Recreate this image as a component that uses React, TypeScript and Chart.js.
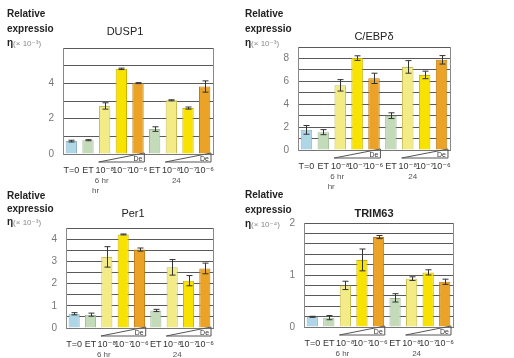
import React, { useEffect, useRef } from 'react';
import { Chart, registerables } from 'chart.js';

Chart.register(...registerables);

// ---------- data ----------
const categories = ['T=0', 'ET', '10⁻⁸', '10⁻⁷', '10⁻⁶', 'ET', '10⁻⁸', '10⁻⁷', '10⁻⁶'];

const dusp1Values = [0.73, 0.78, 2.72, 4.82, 4.01, 1.41, 3.04, 2.6, 3.82];
const dusp1Errors = [0.05, 0.03, 0.18, 0.04, 0.03, 0.13, 0.03, 0.06, 0.32];

const cebpdValues = [1.76, 1.56, 5.65, 8.03, 6.26, 3.0, 7.26, 6.56, 7.88];
const cebpdErrors = [0.38, 0.22, 0.5, 0.2, 0.45, 0.25, 0.55, 0.33, 0.37];

const per1Values = [0.64, 0.6, 3.2, 4.21, 3.53, 0.79, 2.73, 2.13, 2.68];
const per1Errors = [0.05, 0.07, 0.46, 0.02, 0.07, 0.05, 0.35, 0.23, 0.24];

const trim63Values = [0.196, 0.18, 0.8, 1.29, 1.73, 0.56, 0.93, 1.05, 0.87];
const trim63Errors = [0.01, 0.04, 0.08, 0.21, 0.03, 0.08, 0.035, 0.05, 0.05];

const barColors = ['#afd6e6', '#c3dbb9', '#f3ec86', '#f8e200', '#eaa326', '#c3dbb9', '#f3ec86', '#f8e200', '#eaa326'];
const barBorders = ['#8fb4c4', '#9fba98', '#c9bf55', '#c9b400', '#c07a10', '#9fba98', '#c9bf55', '#c9b400', '#c07a10'];

const groupStarts = [2, 6];
const groupEnds = [4, 8];

// ---------- layout ----------
type PanelCfg = {
  title: string;
  titleBold: boolean;
  values: number[];
  errors: number[];
  max: number;
  step: number;
  labelEvery: number;
  labelTop: boolean;
  exp: string;
  ox: number;
  oy: number;
  w: number;
  h: number;
  plot: [number, number, number, number];
  titlePos: [number, number];
  ylab: [number, number, number];
  extraHr: boolean;
};

const FONT = '"Liberation Sans", Arial, "DejaVu Sans", sans-serif';
const Y_W = 30;
const X_H = 30;

const panels: PanelCfg[] = [
  {
    title: 'DUSP1', titleBold: false, values: dusp1Values, errors: dusp1Errors,
    max: 6, step: 1, labelEvery: 2, labelTop: false, exp: '⁻³',
    ox: 0, oy: 0, w: 257, h: 200, plot: [63, 48, 213, 154],
    titlePos: [125, 31], ylab: [7, 7, 14.5], extraHr: true,
  },
  {
    title: 'C/EBPδ', titleBold: false, values: cebpdValues, errors: cebpdErrors,
    max: 9, step: 1, labelEvery: 2, labelTop: false, exp: '⁻³',
    ox: 257, oy: 0, w: 257, h: 200, plot: [298, 47, 450, 150],
    titlePos: [374, 36], ylab: [245, 7, 14.5], extraHr: true,
  },
  {
    title: 'Per1', titleBold: false, values: per1Values, errors: per1Errors,
    max: 4.5, step: 0.5, labelEvery: 1, labelTop: false, exp: '⁻³',
    ox: 0, oy: 180, w: 257, h: 178, plot: [66, 228, 213, 328],
    titlePos: [133, 213], ylab: [7, 190, 12.8], extraHr: false,
  },
  {
    title: 'TRIM63', titleBold: true, values: trim63Values, errors: trim63Errors,
    max: 2, step: 0.2, labelEvery: 1, labelTop: true, exp: '⁻⁴',
    ox: 257, oy: 180, w: 257, h: 178, plot: [304, 223, 453, 327],
    titlePos: [374, 213], ylab: [245, 188, 14.5], extraHr: false,
  },
];

function makeDecor(cfg: PanelCfg) {
  return {
    id: 'decor',
    afterDatasetsDraw(chart: any) {
      const { ctx, chartArea, scales } = chart;
      const x = scales.x;
      const y = scales.y;
      const meta = chart.getDatasetMeta(0);
      ctx.save();
      // error bars
      ctx.strokeStyle = '#333';
      ctx.lineWidth = 1;
      meta.data.forEach((bar: any, i: number) => {
        const v = cfg.values[i];
        const e = cfg.errors[i];
        const px = Math.round(bar.x) + 0.5;
        const yHi = y.getPixelForValue(v + e);
        const yLo = y.getPixelForValue(v - e);
        ctx.beginPath();
        ctx.moveTo(px, yHi);
        ctx.lineTo(px, yLo);
        ctx.moveTo(px - 3, yHi);
        ctx.lineTo(px + 3, yHi);
        ctx.moveTo(px - 3, yLo);
        ctx.lineTo(px + 3, yLo);
        ctx.stroke();
      });
      // right border of the plot
      ctx.strokeStyle = '#888';
      ctx.beginPath();
      ctx.moveTo(chartArea.right + 0.5, chartArea.top);
      ctx.lineTo(chartArea.right + 0.5, chartArea.bottom);
      ctx.stroke();
      // dose wedges
      const slot = x.getPixelForValue(1) - x.getPixelForValue(0);
      ctx.strokeStyle = '#555';
      ctx.fillStyle = '#333';
      groupStarts.forEach((g0, gi) => {
        const g1 = groupEnds[gi];
        const xl = x.getPixelForValue(g0) - slot * 0.36;
        const xr = x.getPixelForValue(g1) + slot * 0.38;
        const yt = chartArea.bottom - 1;
        const yb = chartArea.bottom + 8;
        ctx.beginPath();
        ctx.moveTo(xl, yb);
        ctx.lineTo(xr, yt);
        ctx.lineTo(xr, yb);
        ctx.lineTo(xl, yb);
        ctx.stroke();
        ctx.font = `7px ${FONT}`;
        ctx.textAlign = 'right';
        ctx.textBaseline = 'alphabetic';
        ctx.fillText('De', xr - 2, yb - 1);
      });
      // time labels
      ctx.font = `8px ${FONT}`;
      ctx.fillStyle = '#555';
      ctx.textAlign = 'center';
      ctx.textBaseline = 'middle';
      ctx.fillText('6 hr', x.getPixelForValue(groupStarts[0]) - 3, chartArea.bottom + 27);
      ctx.fillText('24', x.getPixelForValue(groupStarts[1]) + 5, chartArea.bottom + 27);
      if (cfg.extraHr) {
        ctx.fillText('hr', x.getPixelForValue(groupStarts[0]) - 9, chartArea.bottom + 37);
      }
      ctx.restore();
    },
  };
}

function Panel({ cfg }: { cfg: PanelCfg }) {
  const ref = useRef<HTMLCanvasElement>(null);
  useEffect(() => {
    if (!ref.current) return;
    const [pl, pt, pr, pb] = cfg.plot;
    const chart = new Chart(ref.current, {
      type: 'bar',
      data: {
        labels: categories,
        datasets: [
          {
            data: cfg.values,
            backgroundColor: barColors,
            borderColor: barBorders,
            borderWidth: 1,
            barPercentage: 0.68,
            categoryPercentage: 1,
          },
        ],
      },
      options: {
        responsive: false,
        animation: false,
        devicePixelRatio: 1,
        layout: {
          padding: {
            left: pl - cfg.ox - Y_W,
            top: pt - cfg.oy,
            right: cfg.ox + cfg.w - pr,
            bottom: cfg.oy + cfg.h - pb - X_H,
          },
        },
        plugins: {
          legend: { display: false },
          title: { display: false },
          tooltip: { enabled: false },
        },
        scales: {
          x: {
            grid: { display: false },
            border: { display: true, color: '#777', width: 1 },
            ticks: {
              autoSkip: false,
              maxRotation: 0,
              minRotation: 0,
              padding: 3,
              color: '#333',
              font: { size: 9, family: FONT },
            },
            afterFit(scale: any) {
              scale.height = X_H;
            },
          },
          y: {
            min: 0,
            max: cfg.max,
            grid: { color: '#5a5a5a', lineWidth: 1, drawTicks: false },
            border: { display: true, color: '#888', width: 1 },
            ticks: {
              stepSize: cfg.step,
              autoSkip: false,
              padding: 9,
              color: '#777',
              font: { size: 10, family: FONT },
              callback: (v: any) => {
                const n = Number(v);
                const r = n / cfg.labelEvery;
                const whole = Math.abs(r - Math.round(r)) < 1e-6;
                const isTop = Math.abs(n - cfg.max) < 1e-6;
                if (!whole) return '';
                if (isTop && !cfg.labelTop) return '';
                return String(Math.round(n));
              },
            },
            afterFit(scale: any) {
              scale.width = Y_W;
            },
          },
        },
      },
      plugins: [makeDecor(cfg)],
    });
    return () => chart.destroy();
  }, [cfg]);

  const [tx, ty] = cfg.titlePos;
  const [lx, ly, lh] = cfg.ylab;
  return (
    <>
      <canvas
        ref={ref}
        width={cfg.w}
        height={cfg.h}
        style={{ position: 'absolute', left: cfg.ox, top: cfg.oy, width: cfg.w, height: cfg.h }}
      />
      <div
        style={{
          position: 'absolute',
          left: tx - 50,
          top: ty - 7,
          width: 100,
          textAlign: 'center',
          fontFamily: FONT,
          fontSize: 11,
          lineHeight: '14px',
          fontWeight: cfg.titleBold ? 'bold' : 'normal',
          color: '#222',
          whiteSpace: 'nowrap',
        }}
      >
        {cfg.title}
      </div>
      <div
        style={{
          position: 'absolute',
          left: lx,
          top: ly,
          fontFamily: FONT,
          fontSize: 10,
          lineHeight: `${lh}px`,
          fontWeight: 'bold',
          color: '#222',
          whiteSpace: 'nowrap',
        }}
      >
        <div>Relative</div>
        <div>expressio</div>
        <div>
          η<span style={{ fontWeight: 'normal', fontSize: 8, color: '#888' }}>(× 10{cfg.exp})</span>
        </div>
      </div>
    </>
  );
}

export default function App() {
  return (
    <div
      style={{
        position: 'absolute',
        left: 0,
        top: 0,
        width: 514,
        height: 358,
        background: '#ffffff',
        overflow: 'hidden',
      }}
    >
      {panels.map((p) => (
        <Panel key={p.title} cfg={p} />
      ))}
    </div>
  );
}
